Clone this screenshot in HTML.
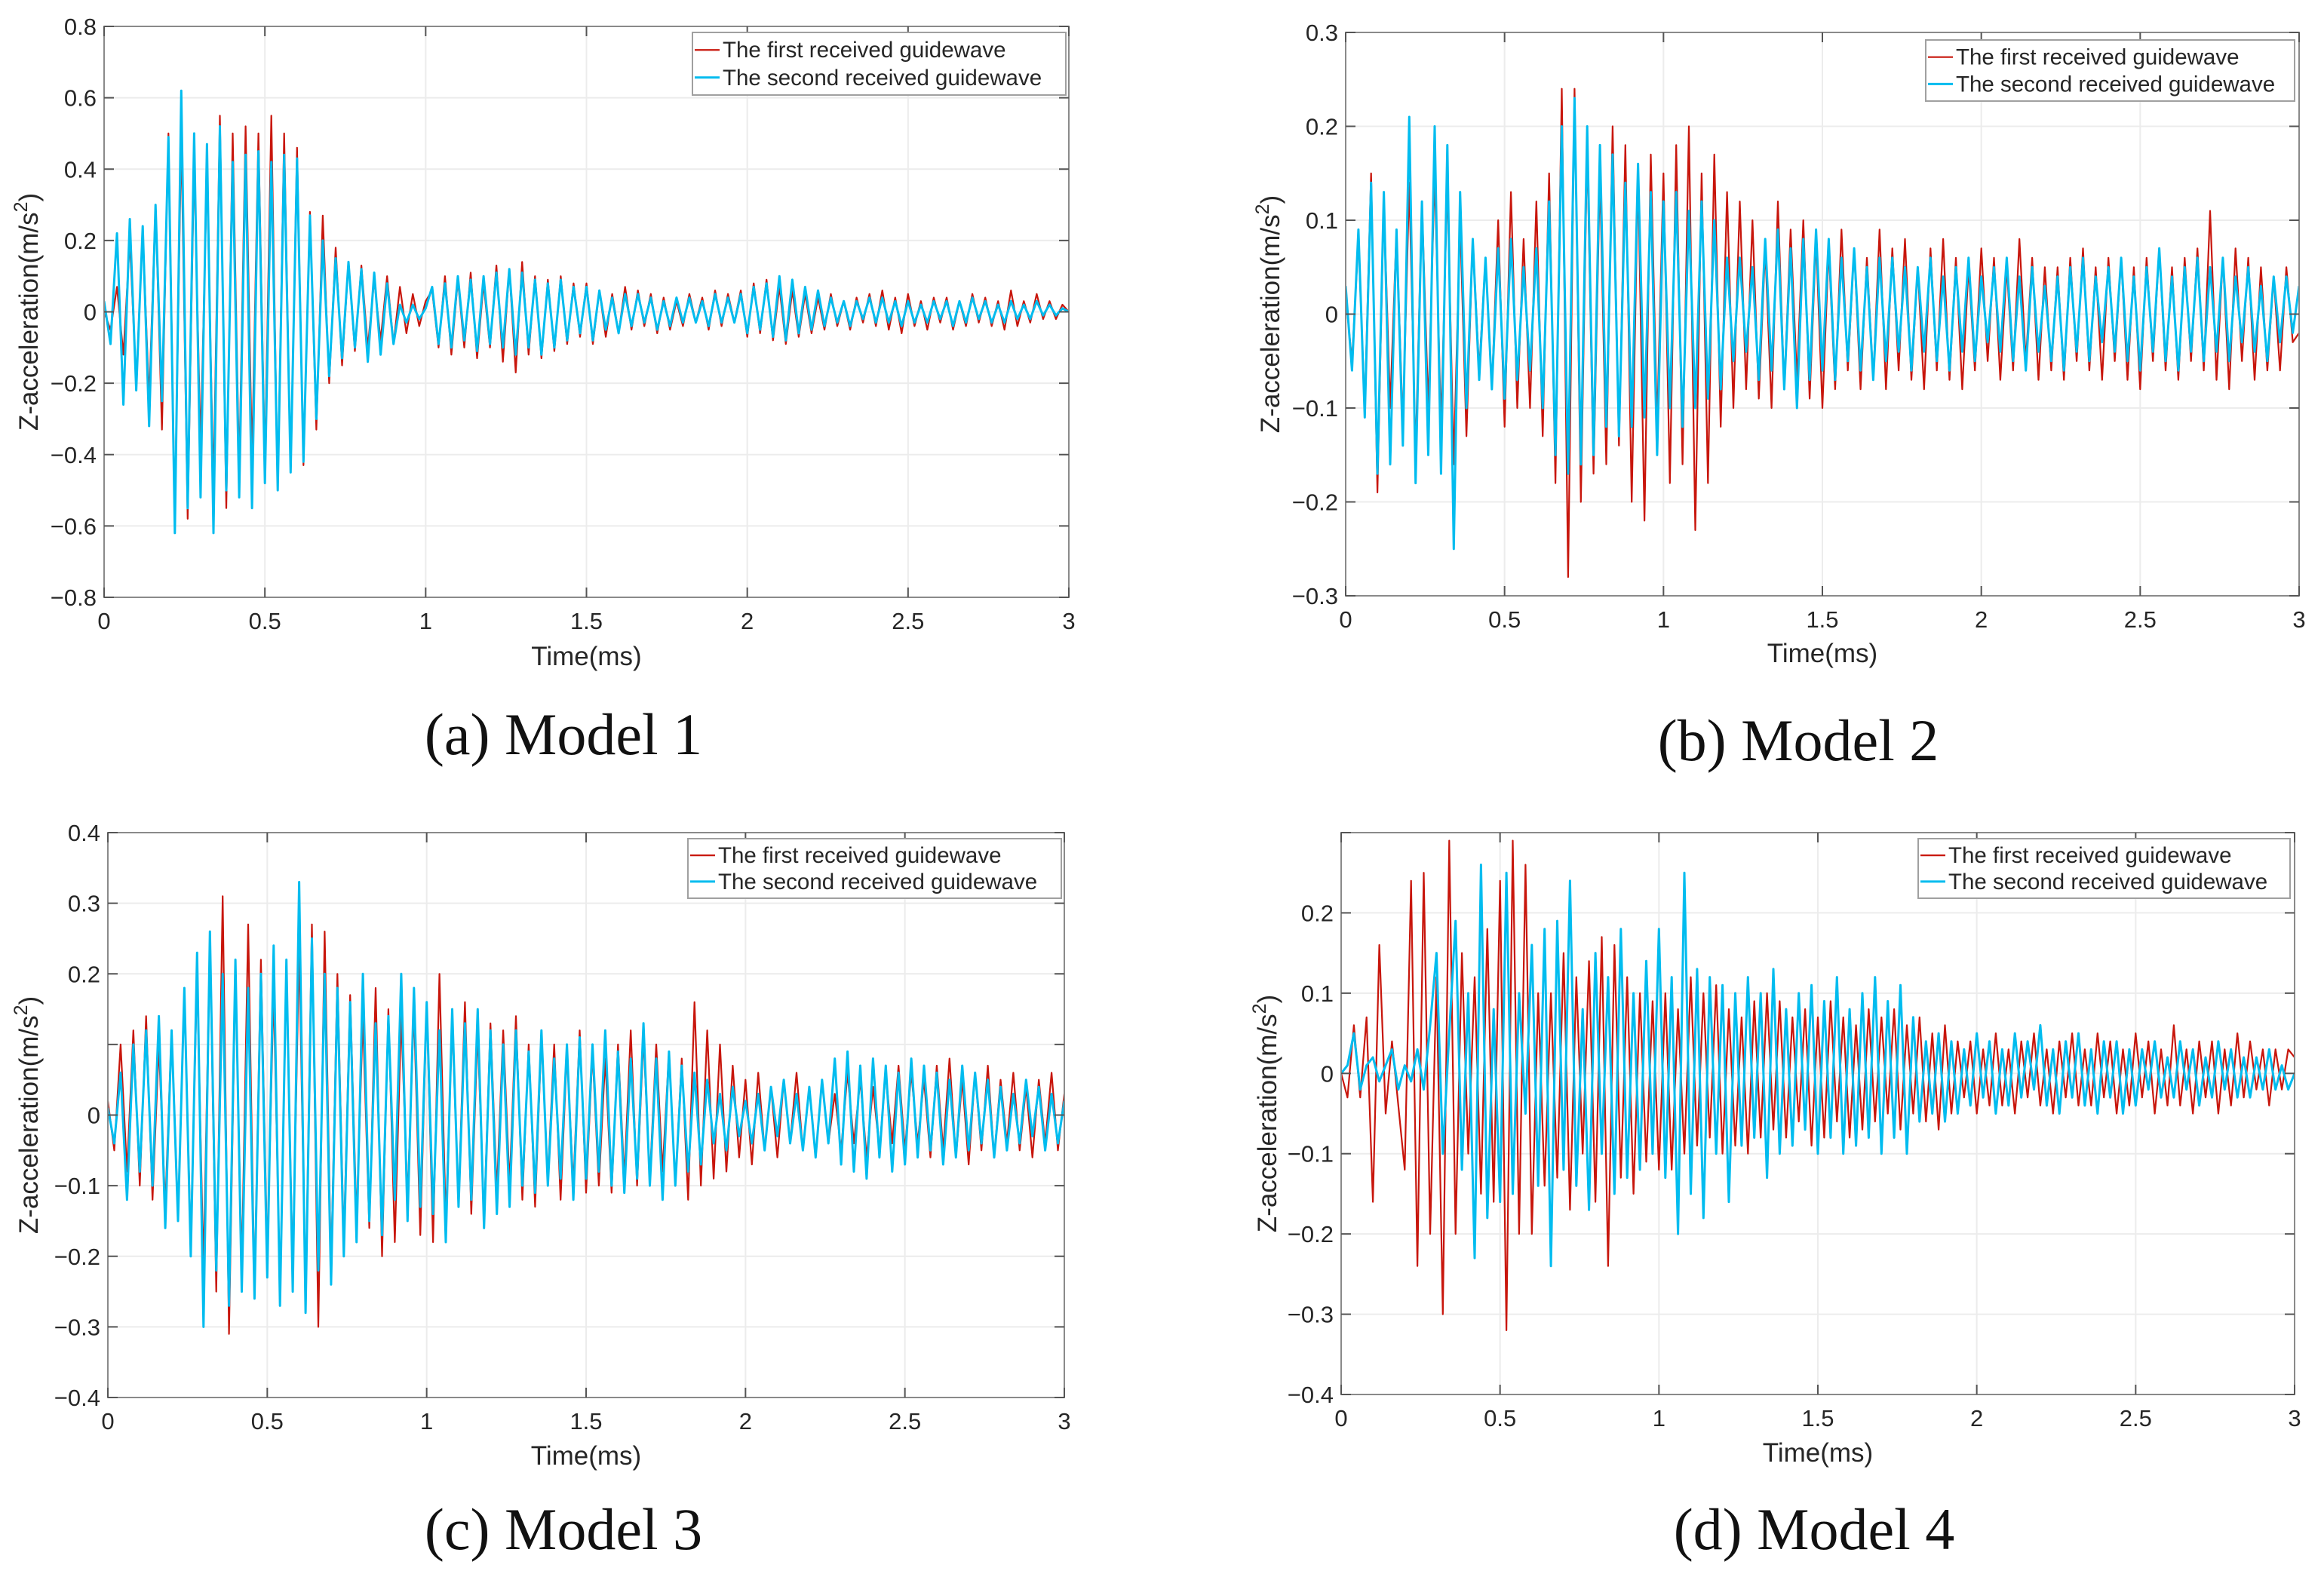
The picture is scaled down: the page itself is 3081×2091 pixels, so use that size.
<!DOCTYPE html>
<html><head><meta charset="utf-8"><style>
html,body{margin:0;padding:0;background:#fff;}
svg{display:block;}
text{font-family:"Liberation Sans",sans-serif;fill:#262626;}
.cap{font-family:"Liberation Serif",serif;fill:#111;}
</style></head><body>
<svg id="fig" width="3081" height="2091" viewBox="0 0 3081 2091" xmlns="http://www.w3.org/2000/svg"></svg>
<script>
const xTicks=[0,0.5,1,1.5,2,2.5,3];
const xTickLabels=["0","0.5","1","1.5","2","2.5","3"];
const yTicksA=[-0.8,-0.6,-0.4,-0.2,0,0.2,0.4,0.6,0.8];
const yLabelsA=["\u22120.8","\u22120.6","\u22120.4","\u22120.2","0","0.2","0.4","0.6","0.8"];
const yTicksB=[-0.3,-0.2,-0.1,0,0.1,0.2,0.3];
const yLabelsB=["\u22120.3","\u22120.2","\u22120.1","0","0.1","0.2","0.3"];
const yTicksC=[-0.4,-0.3,-0.2,-0.1,0,0.1,0.2,0.3,0.4];
const yLabelsC=["\u22120.4","\u22120.3","\u22120.2","\u22120.1","0","","0.2","0.3","0.4"];
const yTicksD=[-0.4,-0.3,-0.2,-0.1,0,0.1,0.2,0.3];
const yLabelsD=["\u22120.4","\u22120.3","\u22120.2","\u22120.1","0","0.1","0.2",""];
const seriesNames=["The first received guidewave","The second received guidewave"];
const captions=["(a) Model 1","(b) Model 2","(c) Model 3","(d) Model 4"];
const sampleStep=0.02;

const a1=[0,-0.05,0.07,-0.12,0.2,-0.2,0.23,-0.25,0.3,-0.33,0.5,
-0.58,0.5,-0.58,0.43,-0.38,0.4,-0.5,0.55,-0.55,0.5,-0.45,0.52,-0.42,0.5,-0.43,0.55,-0.5,0.5,-0.45,0.46,-0.43,0.28,-0.33,0.27,
-0.2,0.18,-0.15,0.14,-0.11,0.13,-0.1,0.09,-0.08,0.1,-0.09,0.07,-0.06,0.05,-0.04,0.03,
0.06,-0.1,0.1,-0.12,0.09,-0.1,0.11,-0.13,0.08,-0.1,0.13,-0.14,0.12,-0.17,0.14,-0.12,0.1,-0.13,0.09,-0.11,
0.1,-0.09,0.08,-0.07,0.08,-0.09,0.06,-0.07,0.05,-0.06,0.07,-0.05,0.06,-0.04,0.05,-0.06,0.04,-0.05,0.03,-0.04,
0.05,-0.03,0.04,-0.05,0.06,-0.04,0.05,-0.03,0.06,-0.07,0.08,-0.06,0.09,-0.08,0.07,-0.09,0.06,-0.07,0.05,-0.06,
0.04,-0.05,0.05,-0.04,0.03,-0.05,0.04,-0.03,0.05,-0.04,0.06,-0.05,0.04,-0.06,0.05,-0.04,0.03,-0.05,0.04,-0.03,
0.04,-0.05,0.03,-0.04,0.05,-0.03,0.04,-0.04,0.03,-0.05,0.06,-0.04,0.03,-0.03,0.05,-0.02,0.03,-0.02,0.02,0.0];
const a2=[0.03,-0.09,0.22,-0.26,0.26,-0.22,0.24,-0.32,0.3,-0.25,0.49,
-0.62,0.62,-0.55,0.5,-0.52,0.47,-0.62,0.52,-0.5,0.42,-0.52,0.44,-0.55,0.45,-0.48,0.42,-0.5,0.44,-0.45,0.43,-0.42,0.27,-0.3,0.2,
-0.18,0.15,-0.13,0.14,-0.1,0.12,-0.14,0.11,-0.12,0.08,-0.09,0.02,-0.03,0.02,-0.02,0.01,
0.07,-0.09,0.08,-0.1,0.1,-0.08,0.09,-0.11,0.1,-0.09,0.11,-0.1,0.12,-0.12,0.11,-0.1,0.09,-0.12,0.08,-0.1,
0.09,-0.08,0.07,-0.06,0.07,-0.08,0.06,-0.05,0.04,-0.06,0.05,-0.04,0.05,-0.03,0.04,-0.05,0.03,-0.04,0.04,-0.03,
0.04,-0.03,0.03,-0.04,0.05,-0.03,0.04,-0.03,0.05,-0.06,0.07,-0.05,0.08,-0.07,0.1,-0.08,0.09,-0.06,0.07,-0.05,
0.06,-0.04,0.04,-0.03,0.03,-0.04,0.03,-0.02,0.04,-0.03,0.04,-0.03,0.03,-0.04,0.03,-0.03,0.02,-0.03,0.03,-0.02,
0.03,-0.04,0.03,-0.03,0.04,-0.02,0.03,-0.03,0.02,-0.03,0.03,-0.02,0.02,-0.02,0.03,-0.01,0.02,-0.01,0.01,0.0];
const b1=[0.02,-0.05,0.08,-0.1,0.15,-0.19,0.12,-0.1,0.09,-0.12,0.14,-0.15,0.12,-0.1,0.15,-0.12,0.14,-0.16,0.1,-0.13,0.08,-0.06,0.06,-0.08,0.1,-0.12,0.13,-0.1,0.08,-0.1,0.12,-0.13,0.15,-0.18,0.24,-0.28,
0.24,-0.2,0.18,-0.17,0.15,-0.16,0.2,-0.14,0.18,-0.2,0.15,-0.22,0.17,-0.12,0.15,-0.18,0.18,-0.16,0.2,-0.23,0.15,-0.18,0.17,-0.12,0.13,
-0.1,0.12,-0.08,0.1,-0.09,0.07,-0.1,0.12,-0.08,0.09,-0.07,0.1,-0.09,0.08,-0.1,0.07,-0.08,0.09,-0.06,0.07,
-0.08,0.06,-0.07,0.09,-0.08,0.07,-0.06,0.08,-0.07,0.05,-0.08,0.07,-0.06,0.08,-0.07,0.06,-0.08,0.05,-0.06,0.07,
-0.05,0.06,-0.07,0.05,-0.06,0.08,-0.05,0.06,-0.07,0.05,-0.06,0.05,-0.07,0.06,-0.05,0.07,-0.06,0.05,-0.07,0.06,
-0.05,0.06,-0.07,0.05,-0.08,0.06,-0.05,0.07,-0.06,0.05,-0.07,0.06,-0.05,0.07,-0.06,0.11,-0.07,0.06,-0.08,0.07,
-0.05,0.06,-0.07,0.05,-0.06,0.04,-0.06,0.05,-0.03,-0.02];
const b2=[0.03,-0.06,0.09,-0.11,0.14,-0.17,0.13,-0.16,0.09,-0.14,0.21,-0.18,0.12,-0.15,0.2,-0.17,0.18,-0.25,0.13,-0.1,0.08,-0.07,0.06,-0.08,0.07,-0.09,0.08,-0.07,0.05,-0.06,0.07,-0.1,0.12,-0.15,0.2,-0.17,
0.23,-0.16,0.2,-0.15,0.18,-0.12,0.17,-0.13,0.14,-0.12,0.16,-0.11,0.13,-0.15,0.12,-0.1,0.13,-0.12,0.11,-0.1,0.12,-0.09,0.1,-0.08,0.06,
-0.05,0.06,-0.04,0.05,-0.07,0.08,-0.06,0.09,-0.08,0.07,-0.1,0.08,-0.07,0.09,-0.06,0.08,-0.07,0.06,-0.05,0.07,
-0.06,0.05,-0.07,0.06,-0.05,0.06,-0.04,0.05,-0.06,0.05,-0.04,0.06,-0.05,0.04,-0.06,0.05,-0.04,0.06,-0.05,0.04,
-0.03,0.05,-0.04,0.06,-0.05,0.04,-0.06,0.05,-0.04,0.03,-0.05,0.04,-0.06,0.05,-0.04,0.06,-0.05,0.04,-0.03,0.05,
-0.04,0.06,-0.05,0.04,-0.06,0.05,-0.04,0.07,-0.05,0.04,-0.06,0.05,-0.04,0.06,-0.05,0.05,-0.04,0.06,-0.05,0.04,
-0.03,0.05,-0.04,0.03,-0.05,0.04,-0.03,0.04,-0.02,0.03];
const c1=[0.02,-0.05,0.1,-0.08,0.12,-0.1,0.14,-0.12,0.1,-0.13,0.12,-0.14,0.17,-0.18,0.2,-0.22,
0.25,-0.25,0.31,-0.31,0.2,-0.22,0.27,-0.25,0.22,-0.2,0.18,-0.25,0.2,-0.22,0.24,-0.26,0.27,-0.3,0.26,-0.22,0.2,-0.18,0.17,-0.15,0.14,-0.16,0.18,-0.2,0.15,-0.18,0.14,-0.12,0.15,-0.17,0.16,-0.18,0.2,-0.15,0.13,-0.12,
0.16,-0.14,0.12,-0.15,0.13,-0.11,0.12,-0.1,0.14,-0.12,0.1,-0.13,0.11,-0.09,0.1,-0.12,0.09,-0.1,0.12,-0.11,
0.09,-0.1,0.08,-0.11,0.1,-0.09,0.12,-0.1,0.11,-0.09,0.1,-0.08,0.09,-0.1,0.08,-0.12,0.16,-0.1,0.12,-0.09,
0.1,-0.08,0.07,-0.06,0.05,-0.07,0.06,-0.05,0.04,-0.06,0.05,-0.04,0.06,-0.05,0.04,-0.06,0.05,-0.04,0.03,-0.05,
0.06,-0.04,0.05,-0.06,0.04,-0.05,0.06,-0.04,0.07,-0.05,0.06,-0.04,0.05,-0.06,0.07,-0.05,0.08,-0.06,0.05,-0.07,
0.06,-0.05,0.07,-0.06,0.05,-0.04,0.06,-0.05,0.04,-0.06,0.05,-0.04,0.06,-0.05,0.03];
const c2=[0.01,-0.04,0.06,-0.12,0.1,-0.08,0.12,-0.1,0.14,-0.16,0.12,-0.15,0.18,-0.2,0.23,-0.3,
0.26,-0.22,0.2,-0.27,0.22,-0.25,0.18,-0.26,0.2,-0.23,0.24,-0.27,0.22,-0.25,0.33,-0.28,0.25,-0.22,0.2,-0.24,0.18,-0.2,0.16,-0.18,0.2,-0.15,0.13,-0.17,0.14,-0.12,0.2,-0.15,0.18,-0.13,0.16,-0.14,0.12,-0.18,0.15,-0.13,
0.13,-0.12,0.15,-0.16,0.12,-0.14,0.1,-0.13,0.12,-0.1,0.09,-0.11,0.12,-0.1,0.08,-0.09,0.1,-0.12,0.11,-0.09,
0.1,-0.08,0.12,-0.1,0.09,-0.11,0.08,-0.09,0.13,-0.1,0.08,-0.12,0.09,-0.1,0.07,-0.08,0.06,-0.07,0.05,-0.04,
0.03,-0.05,0.04,-0.03,0.02,-0.04,0.03,-0.05,0.04,-0.03,0.05,-0.04,0.03,-0.05,0.04,-0.06,0.05,-0.04,0.08,-0.07,
0.09,-0.08,0.07,-0.09,0.08,-0.06,0.07,-0.08,0.06,-0.07,0.08,-0.06,0.07,-0.05,0.06,-0.07,0.05,-0.06,0.07,-0.05,
0.06,-0.04,0.05,-0.06,0.04,-0.05,0.03,-0.04,0.05,-0.03,0.04,-0.05,0.03,-0.04,0.02];
const d1=[0,-0.03,0.06,-0.03,0.07,-0.16,0.16,-0.05,0.04,-0.04,-0.12,0.24,-0.24,0.25,-0.2,0.12,
-0.3,0.29,-0.2,0.15,-0.1,0.12,-0.15,0.18,-0.16,0.24,-0.32,0.29,-0.2,0.26,-0.2,0.1,-0.14,0.1,-0.13,0.15,-0.17,0.12,-0.1,0.14,-0.16,0.17,-0.24,0.16,-0.13,0.12,-0.15,0.1,-0.11,0.09,-0.12,
0.1,-0.12,0.08,-0.1,0.12,-0.09,0.1,-0.08,0.11,-0.1,0.08,-0.09,0.07,-0.1,0.09,-0.08,0.1,-0.07,0.09,-0.08,
0.07,-0.06,0.08,-0.09,0.07,-0.08,0.09,-0.06,0.07,-0.08,0.06,-0.07,0.08,-0.06,0.07,-0.05,0.08,-0.07,0.06,-0.05,
0.07,-0.06,0.05,-0.07,0.06,-0.05,0.04,-0.03,0.04,-0.05,0.03,-0.04,0.05,-0.04,0.03,-0.05,0.04,-0.03,0.05,-0.04,
0.03,-0.05,0.04,-0.03,0.05,-0.04,0.03,-0.04,0.05,-0.03,0.04,-0.05,0.03,-0.04,0.05,-0.03,0.04,-0.05,0.03,-0.04,
0.06,-0.04,0.03,-0.05,0.04,-0.03,0.04,-0.05,0.03,-0.04,0.05,-0.03,0.04,-0.02,0.03,-0.04,0.03,-0.02,0.03,0.02];
const d2=[0,0.01,0.05,-0.02,0.01,0.02,-0.01,0.01,0.03,-0.02,0.01,-0.01,0.03,-0.02,0.06,0.15,
-0.1,0.05,0.19,-0.12,0.1,-0.23,0.26,-0.18,0.08,-0.16,0.25,-0.15,0.1,-0.05,0.16,-0.14,0.18,-0.24,0.19,-0.12,0.24,-0.14,0.08,-0.17,0.15,-0.1,0.12,-0.15,0.18,-0.13,0.1,-0.12,0.14,-0.1,0.18,
-0.13,0.12,-0.2,0.25,-0.15,0.13,-0.18,0.12,-0.1,0.11,-0.16,0.1,-0.09,0.12,-0.08,0.1,-0.13,0.13,-0.1,0.08,
-0.09,0.1,-0.07,0.11,-0.1,0.09,-0.08,0.12,-0.1,0.08,-0.09,0.1,-0.08,0.12,-0.1,0.09,-0.08,0.11,-0.1,0.07,
-0.06,0.04,-0.05,0.05,-0.06,0.04,-0.05,0.03,-0.04,0.05,-0.03,0.04,-0.05,0.03,-0.04,0.05,-0.03,0.04,-0.02,0.06,
-0.04,0.03,-0.05,0.04,-0.03,0.05,-0.04,0.03,-0.05,0.04,-0.03,0.04,-0.05,0.03,-0.04,0.03,-0.02,0.04,-0.03,0.02,
-0.03,0.04,-0.02,0.03,-0.04,0.02,-0.03,0.04,-0.02,0.03,-0.03,0.02,-0.03,0.02,-0.02,0.03,-0.02,0.01,-0.02,0.0];

const NS="http://www.w3.org/2000/svg";
const svg=document.getElementById('fig');
function el(tag,attrs,parent){const e=document.createElementNS(NS,tag);for(const k in attrs)e.setAttribute(k,attrs[k]);(parent||svg).appendChild(e);return e;}
const defs=el('defs',{});

const panels=[
 {id:'a',x0:138,x1:1417,y0:35,y1:792,ymin:-0.8,ymax:0.8,yt:yTicksA,yl:yLabelsA,s1:a1,s2:a2,leg:[918,43,495,83],ylx:50,xly:882,cap:[747,1000]},
 {id:'b',x0:1784,x1:3048,y0:43,y1:790,ymin:-0.3,ymax:0.3,yt:yTicksB,yl:yLabelsB,s1:b1,s2:b2,leg:[2553,53,489,81],ylx:1696,xly:878,cap:[2384,1008]},
 {id:'c',x0:143,x1:1411,y0:1104,y1:1853,ymin:-0.4,ymax:0.4,yt:yTicksC,yl:yLabelsC,s1:c1,s2:c2,leg:[912,1112,495,79],ylx:50,xly:1942,cap:[747,2054]},
 {id:'d',x0:1778,x1:3042,y0:1104,y1:1849,ymin:-0.4,ymax:0.3,yt:yTicksD,yl:yLabelsD,s1:d1,s2:d2,leg:[2543,1112,493,79],ylx:1692,xly:1938,cap:[2405,2054]}
];

panels.forEach((p,pi)=>{
 const g=el('g',{});
 
 
 const X=t=>p.x0+(t-0)/(3-0)*(p.x1-p.x0);
 const Y=v=>p.y1-(v-p.ymin)/(p.ymax-p.ymin)*(p.y1-p.y0);
 const cp0=el('clipPath',{id:'clip-'+p.id},defs);
 el('rect',{x:p.x0,y:p.y0,width:p.x1-p.x0,height:p.y1-p.y0},cp0);
 xTicks.forEach(t=>{const l=el('line',{x1:X(t),x2:X(t),y1:p.y0,y2:p.y1,stroke:'#ececec','stroke-width':2},g);
  });
 p.yt.forEach(v=>{const l=el('line',{x1:p.x0,x2:p.x1,y1:Y(v),y2:Y(v),stroke:'#ececec','stroke-width':2},g);
  });
 const sg=el('g',{'clip-path':'url(#clip-'+p.id+')'},g);
 [[p.s1,'#c8160c',2.2,'series-first-guidewave'],[p.s2,'#00bcef',3,'series-second-guidewave']].forEach(([arr,col,w,nm])=>{
  const pts=arr.map((v,i)=>X(i*sampleStep).toFixed(1)+','+Y(v).toFixed(1)).join(' ');
  const pl=el('polyline',{points:pts,fill:'none',stroke:col,'stroke-width':w,'stroke-linejoin':'round'},sg);
  
 });
 const bx=el('rect',{x:p.x0,y:p.y0,width:p.x1-p.x0,height:p.y1-p.y0,fill:'none',stroke:'#8a8a8a','stroke-width':2},g);
 
 xTicks.forEach((t,i)=>{
  el('line',{x1:X(t),x2:X(t),y1:p.y1,y2:p.y1-13,stroke:'#555','stroke-width':2},g);
  el('line',{x1:X(t),x2:X(t),y1:p.y0,y2:p.y0+13,stroke:'#555','stroke-width':2},g);
  const tx=el('text',{x:X(t),y:p.y1+42,'text-anchor':'middle','font-size':31},g);tx.textContent=xTickLabels[i];
  
 });
 p.yt.forEach((v,i)=>{
  el('line',{x1:p.x0,x2:p.x0+13,y1:Y(v),y2:Y(v),stroke:'#555','stroke-width':2},g);
  el('line',{x1:p.x1,x2:p.x1-13,y1:Y(v),y2:Y(v),stroke:'#555','stroke-width':2},g);
  const tx=el('text',{x:p.x0-10,y:Y(v)+11,'text-anchor':'end','font-size':31},g);tx.textContent=p.yl[i];
  
 });
 const xl=el('text',{x:(p.x0+p.x1)/2,y:p.xly,'text-anchor':'middle','font-size':35},g);xl.textContent='Time(ms)';
 
 const cy=(p.y0+p.y1)/2;
 const yl=el('text',{x:p.ylx,y:cy,'text-anchor':'middle','font-size':35,transform:`rotate(-90 ${p.ylx} ${cy})`},g);
 
 yl.appendChild(document.createTextNode('Z-acceleration(m/s'));
 const sup=el('tspan',{'baseline-shift':'super','font-size':25},yl);sup.textContent='2';
 const cl=el('tspan',{},yl);cl.textContent=')';
 const [lx,ly,lw,lh]=p.leg;
 const lg=el('g',{},g);
 el('rect',{x:lx,y:ly,width:lw,height:lh,fill:'#fff',stroke:'#a0a0a0','stroke-width':2},lg);
 [['#c8160c',2.2],['#00bcef',3]].forEach(([c,w],k)=>{
  const yy=ly+lh*(k===0?0.28:0.72);
  const ll=el('line',{x1:lx+3,x2:lx+36,y1:yy,y2:yy,stroke:c,'stroke-width':w},lg);
  
  const t=el('text',{x:lx+40,y:yy+10,'font-size':29.5},lg);t.textContent=seriesNames[k];
  
 });
 const cp=el('text',{x:p.cap[0],y:p.cap[1],'text-anchor':'middle','font-size':78,class:'cap'},g);cp.textContent=captions[pi];
 
});
</script>
</body></html>
